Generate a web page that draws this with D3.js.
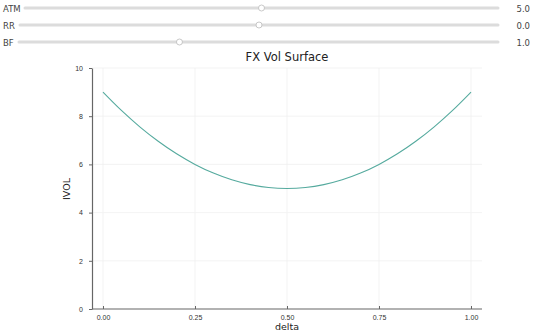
<!DOCTYPE html>
<html>
<head>
<meta charset="utf-8">
<script src="https://cdn.jsdelivr.net/npm/d3@7"></script>
<style>
  body { margin: 0; background: #fff; }
  svg { display: block; font-family: "DejaVu Sans", sans-serif; }
</style>
</head>
<body>
<div id="chart"></div>
<script>
const svgWidth = 540;
const svgHeight = 334;

// slider controls (label, value shown, thumb position as fraction of track)
const sliderNames = ["ATM", "RR", "BF"];
const sliderValues = ["5.0", "0.0", "1.0"];
const sliderPos = [0.5, 0.5, 0.335];

// curve
const deltas = [0, 0.05, 0.1, 0.15, 0.2, 0.25, 0.3, 0.35, 0.4, 0.45, 0.5,
  0.55, 0.6, 0.65, 0.7, 0.75, 0.8, 0.85, 0.9, 0.95, 1];
const vols = [9.0, 8.24, 7.56, 6.96, 6.44, 6.0, 5.64, 5.36, 5.16, 5.04, 5.0,
  5.04, 5.16, 5.36, 5.64, 6.0, 6.44, 6.96, 7.56, 8.24, 9.0];

const xTicks = [0, 0.25, 0.5, 0.75, 1];
const yTicks = [0, 2, 4, 6, 8, 10];

const margin = { top: 68, right: 58, bottom: 25, left: 92 };
const width = svgWidth - margin.left - margin.right;
const height = svgHeight - margin.top - margin.bottom;

const svg = d3.select("#chart")
  .append("svg")
  .attr("width", svgWidth)
  .attr("height", svgHeight);

// sliders
const trackStart = [25, 20, 19];
const trackEnd = 498;
const sliderY = [8, 25, 42];
sliderNames.forEach((name, i) => {
  const g = svg.append("g");
  g.append("text")
    .attr("x", 3).attr("y", sliderY[i] + 3.5)
    .attr("font-size", 8.5).attr("fill", "#444")
    .text(name);
  g.append("line")
    .attr("x1", trackStart[i]).attr("x2", trackEnd)
    .attr("y1", sliderY[i]).attr("y2", sliderY[i])
    .attr("stroke", "#dcdcdc").attr("stroke-width", 3)
    .attr("stroke-linecap", "round");
  const sx = d3.scaleLinear().domain([0, 1]).range([trackStart[i], trackEnd]);
  g.append("circle")
    .attr("cx", sx(sliderPos[i])).attr("cy", sliderY[i]).attr("r", 3)
    .attr("fill", "#fff").attr("stroke", "#bbb").attr("stroke-width", 0.8);
  g.append("text")
    .attr("x", 530).attr("y", sliderY[i] + 3.5)
    .attr("text-anchor", "end")
    .attr("font-size", 8.5).attr("fill", "#444")
    .text(sliderValues[i]);
});

const chartGroup = svg.append("g")
  .attr("transform", `translate(${margin.left}, ${margin.top})`);

const xScale = d3.scaleLinear().domain([0, 1]).range([11, 379]);
const yScale = d3.scaleLinear().domain([0, 10]).range([height, 0]);

// grid
chartGroup.append("g")
  .selectAll("line")
  .data(xTicks)
  .enter()
  .append("line")
  .attr("x1", d => xScale(d)).attr("x2", d => xScale(d))
  .attr("y1", 0).attr("y2", height)
  .attr("stroke", "#f0f0f0").attr("stroke-width", 0.8);

chartGroup.append("g")
  .selectAll("line")
  .data(yTicks.slice(1))
  .enter()
  .append("line")
  .attr("x1", 0).attr("x2", width)
  .attr("y1", d => yScale(d)).attr("y2", d => yScale(d))
  .attr("stroke", "#f0f0f0").attr("stroke-width", 0.8);

// axes
const bottomAxis = d3.axisBottom(xScale)
  .tickValues(xTicks).tickFormat(d3.format(".2f"))
  .tickSizeInner(-3).tickSizeOuter(0).tickPadding(6);
const leftAxis = d3.axisLeft(yScale)
  .tickValues(yTicks).tickFormat(d3.format("d"))
  .tickSizeInner(3).tickSizeOuter(0).tickPadding(6);

const xAxis = chartGroup.append("g")
  .attr("transform", `translate(0, ${height})`)
  .call(bottomAxis);
const yAxis = chartGroup.append("g").call(leftAxis);

[xAxis, yAxis].forEach(ax => {
  ax.select(".domain").attr("stroke", "#666").attr("stroke-width", 1.2);
  ax.selectAll(".tick line").attr("stroke", "#666");
  ax.selectAll(".tick text").attr("font-size", 7).attr("fill", "#333");
});
xAxis.select(".domain").attr("d", `M0,0H${width}`);

// curve
const line = d3.line()
  .x((d, i) => xScale(deltas[i]))
  .y(d => yScale(d))
  .curve(d3.curveCatmullRom);

chartGroup.append("path")
  .datum(vols)
  .attr("d", line)
  .attr("fill", "none")
  .attr("stroke", "#55aa9e")
  .attr("stroke-width", 1.1);

// labels
svg.append("text")
  .attr("x", 287).attr("y", 61)
  .attr("text-anchor", "middle")
  .attr("font-size", 11.5).attr("fill", "#222")
  .text("FX Vol Surface");

svg.append("text")
  .attr("x", 287).attr("y", 330)
  .attr("text-anchor", "middle")
  .attr("font-size", 9.5).attr("fill", "#222")
  .text("delta");

svg.append("text")
  .attr("transform", "rotate(-90)")
  .attr("x", -189).attr("y", 70)
  .attr("text-anchor", "middle")
  .attr("font-size", 9.5).attr("fill", "#222")
  .text("IVOL");
</script>
</body>
</html>
